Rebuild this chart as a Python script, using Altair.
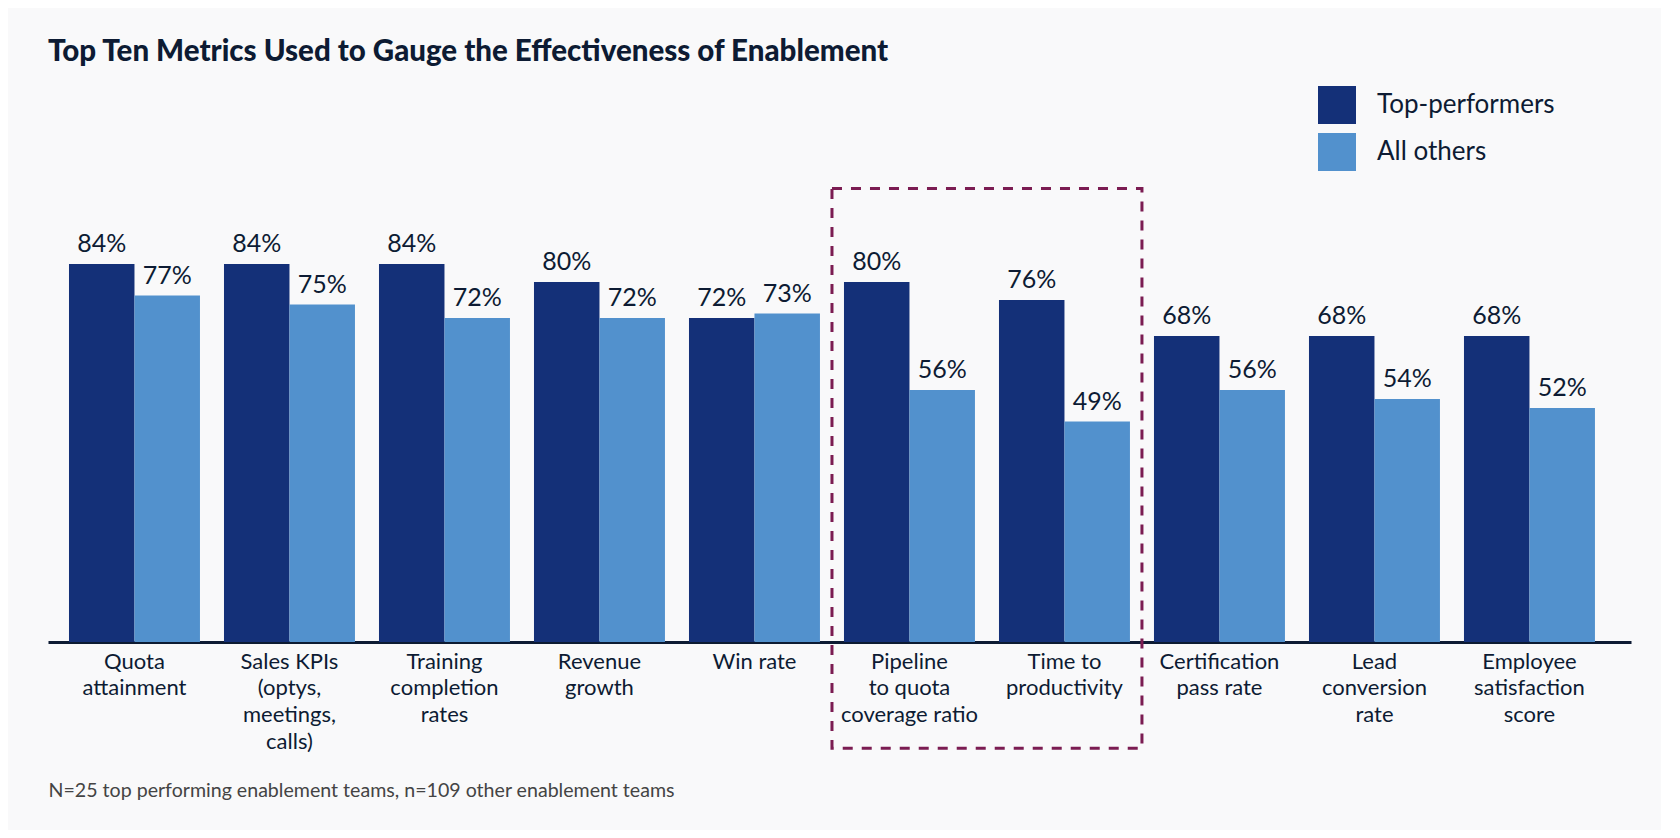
import altair as alt
import pandas as pd

categories = [
    "Quota|attainment",
    "Sales KPIs|(optys,|meetings,|calls)",
    "Training|completion|rates",
    "Revenue|growth",
    "Win rate",
    "Pipeline|to quota|coverage ratio",
    "Time to|productivity",
    "Certification|pass rate",
    "Lead|conversion|rate",
    "Employee|satisfaction|score",
]
series = ["Top-performers", "All others"]
top_values = [84, 84, 84, 80, 72, 80, 76, 68, 68, 68]
other_values = [77, 75, 72, 72, 73, 56, 49, 56, 54, 52]
highlighted = [categories[5], categories[6]]
highlight_span = [100.8, -23.6]
title_text = "Top Ten Metrics Used to Gauge the Effectiveness of Enablement"
footnote = "N=25 top performing enablement teams, n=109 other enablement teams"

DARK = "#143078"
LIGHT = "#5291CD"
INK = "#0D1B33"
MAROON = "#7B1C52"
FONT = "Lato"

rows = []
for c, a, b in zip(categories, top_values, other_values):
    rows.append({"metric": c, "group": series[0], "value": a})
    rows.append({"metric": c, "group": series[1], "value": b})
df = pd.DataFrame(rows)
df["label"] = df["value"].astype(str) + "%"

box_df = pd.DataFrame([{
    "start": highlighted[0], "end": highlighted[1],
    "top": highlight_span[0], "bottom": highlight_span[1],
}])

x_scale = alt.Scale(domain=categories, paddingInner=0.155, paddingOuter=0.184, align=0.368)
y_scale = alt.Scale(domain=[0, 100], nice=False, zero=True)
off_scale = alt.Scale(domain=series, paddingInner=0, paddingOuter=0)

x_enc = alt.X("metric:N", scale=x_scale, sort=categories, title=footnote)
xo_enc = alt.XOffset("group:N", scale=off_scale, sort=series)
y_enc = alt.Y("value:Q", scale=y_scale, axis=None)

bars = alt.Chart(df).mark_bar().encode(
    x=x_enc,
    xOffset=xo_enc,
    y=y_enc,
    color=alt.Color(
        "group:N",
        scale=alt.Scale(domain=series, range=[DARK, LIGHT]),
        sort=series,
        legend=alt.Legend(
            title=None, orient="none", legendX=1270, legendY=-106,
            symbolType="square", symbolSize=1444, symbolStrokeWidth=0,
            symbolOpacity=1, labelFont=FONT, labelFontSize=26, labelColor=INK,
            labelOffset=21, rowPadding=9, padding=0, labelLimit=400,
        ),
    ),
)

labels = alt.Chart(df).mark_text(
    dy=-12, baseline="alphabetic", font=FONT, fontSize=25, color=INK
).encode(x=x_enc, xOffset=xo_enc, y=y_enc, text="label:N")

box = alt.Chart(box_df).mark_rect(
    filled=False, stroke=MAROON, strokeWidth=3, strokeDash=[10, 9],
    xOffset=-12, x2Offset=12,
).encode(
    x=alt.X("start:N", scale=x_scale, sort=categories, bandPosition=0, title=footnote),
    x2=alt.X2("end:N", bandPosition=1),
    y=alt.Y("top:Q", scale=y_scale, axis=None),
    y2="bottom:Q",
)

chart = alt.layer(bars, labels, box).properties(
    width=1583,
    height=450,
    padding={"left": 40, "top": 184, "right": 30, "bottom": 188},
    autosize=alt.AutoSizeParams(type="none"),
    background="#F9F9FA",
    title=alt.TitleParams(
        title_text, anchor="start", frame="group", font=FONT, fontSize=29.5,
        fontWeight=900, color=INK, baseline="alphabetic", offset=-4,
    ),
).configure_view(stroke=None).configure_axisX(
    domain=True, domainColor=INK, domainWidth=3, ticks=False, tickSize=0,
    grid=False, labelAngle=0, labelFont=FONT, labelFontSize=22, labelColor=INK,
    labelExpr="split(datum.label, '|')", labelLineHeight=26.7,
    labelBaseline="alphabetic", labelPadding=26, labelLimit=400,
    labelOverlap=False, labelFlush=False,
    titleAnchor="start", titleAlign="left", titleX=0, titleY=154,
    titleBaseline="alphabetic", titleFont=FONT, titleFontSize=19.6,
    titleFontWeight="normal", titleColor="#444444",
)

chart.save("out.html", embed_options={"renderer": "svg", "actions": False})
